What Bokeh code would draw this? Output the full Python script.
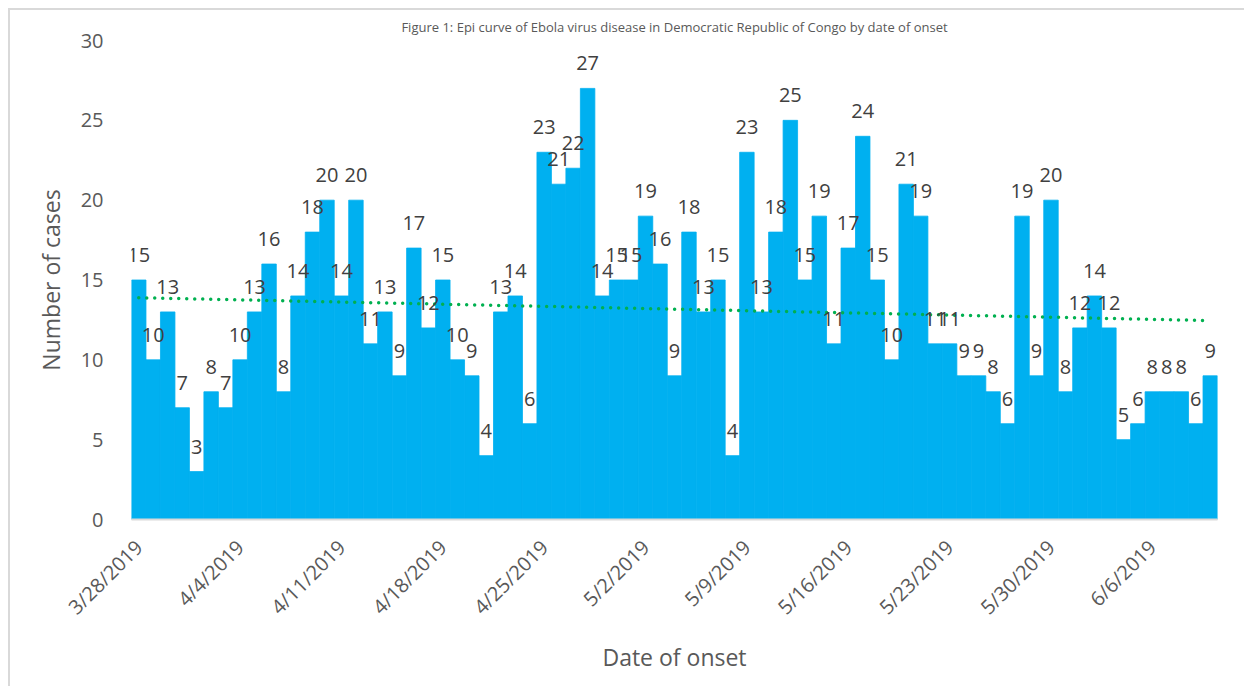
import numpy as np
import pandas as pd
from bokeh.plotting import figure
from bokeh.models import ColumnDataSource, FixedTicker, Range1d
from bokeh.core.properties import value
from bokeh.embed import file_html
from bokeh.resources import INLINE

# ---- data ----
start_date = "2019-03-28"
cases = [15, 10, 13, 7, 3, 8, 7, 10, 13, 16,
         8, 14, 18, 20, 14, 20, 11, 13, 9, 17,
         12, 15, 10, 9, 4, 13, 14, 6, 23, 21,
         22, 27, 14, 15, 15, 19, 16, 9, 18, 13,
         15, 4, 23, 13, 18, 25, 15, 19, 11, 17,
         24, 15, 10, 21, 19, 11, 11, 9, 9, 8,
         6, 19, 9, 20, 8, 12, 14, 12, 5, 6,
         8, 8, 8, 6, 9]
tick_labels = ["3/28/2019", "4/4/2019", "4/11/2019", "4/18/2019", "4/25/2019",
               "5/2/2019", "5/9/2019", "5/16/2019", "5/23/2019", "5/30/2019", "6/6/2019"]
title_text = "Figure 1: Epi curve of Ebola virus disease in Democratic Republic of Congo by date of onset"

dates = pd.date_range(start_date, periods=len(cases), freq="D")
idx = np.arange(len(cases))
tick_pos = [int((pd.to_datetime(s, format="%m/%d/%Y") - pd.Timestamp(start_date)).days)
            for s in tick_labels]

src = ColumnDataSource(dict(x=idx, y=cases, lab=[str(c) for c in cases],
                            date=[d.strftime("%m/%d/%Y") for d in dates]))

FONT = "Open Sans"
AX = "#595959"
BAR = "#00B0F0"

p = figure(width=1236, height=678, output_backend="svg", toolbar_location=None,
           x_range=Range1d(-0.5, len(cases) - 0.5), y_range=Range1d(0, 30),
           min_border_left=121, min_border_right=29, min_border_top=28, min_border_bottom=169)
p.margin = (8, 0, 0, 8)
p.styles = {"border-left": "2px solid #D9D9D9", "border-top": "2px solid #D9D9D9"}

p.title.text = title_text
p.title.text_font = FONT
p.title.text_font_size = "13px"
p.title.text_font_style = "normal"
p.title.text_color = AX
p.title.align = "center"

p.outline_line_color = None
p.xgrid.grid_line_color = None
p.ygrid.grid_line_color = None

p.vbar(x="x", top="y", width=1.0, bottom=0, source=src, fill_color=BAR,
       line_color=BAR, line_width=0.8)

# trendline (linear fit)
m, b = np.polyfit(idx, np.array(cases, dtype=float), 1)
p.line(x=[idx[0], idx[-1]], y=[m * idx[0] + b, m * idx[-1] + b], line_color="#00B050",
       line_width=3.5, line_dash="0 8", line_cap="round")

p.text(x="x", y="y", text="lab", source=src, text_font=value(FONT), text_font_size="20px",
       text_color="#404040", text_align="center", text_baseline="middle", y_offset=-25)

# x axis
p.xaxis.ticker = FixedTicker(ticks=tick_pos)
p.xaxis.major_label_overrides = {t: l for t, l in zip(tick_pos, tick_labels)}
p.xaxis.major_label_orientation = np.pi / 4
p.xaxis.major_tick_line_color = None
p.xaxis.minor_tick_line_color = None
p.xaxis.axis_line_color = "#D9D9D9"
p.xaxis.axis_line_width = 2
p.xaxis.major_label_text_font = FONT
p.xaxis.major_label_text_font_size = "20px"
p.xaxis.major_label_text_color = AX
p.xaxis.major_label_standoff = 18
p.xaxis.axis_label = "Date of onset"
p.xaxis.axis_label_text_font = FONT
p.xaxis.axis_label_text_font_size = "23px"
p.xaxis.axis_label_text_font_style = "normal"
p.xaxis.axis_label_text_color = AX
p.xaxis.axis_label_standoff = 8

# y axis
p.yaxis.ticker = FixedTicker(ticks=[0, 5, 10, 15, 20, 25, 30])
p.yaxis.major_tick_line_color = None
p.yaxis.minor_tick_line_color = None
p.yaxis.axis_line_color = None
p.yaxis.major_label_text_font = FONT
p.yaxis.major_label_text_font_size = "20px"
p.yaxis.major_label_text_color = AX
p.yaxis.major_label_standoff = 22
p.yaxis.axis_label = "Number of cases"
p.yaxis.axis_label_text_font = FONT
p.yaxis.axis_label_text_font_size = "23px"
p.yaxis.axis_label_text_font_style = "normal"
p.yaxis.axis_label_text_color = AX
p.yaxis.axis_label_standoff = 11

open("out.html", "w").write(file_html(p, INLINE))
